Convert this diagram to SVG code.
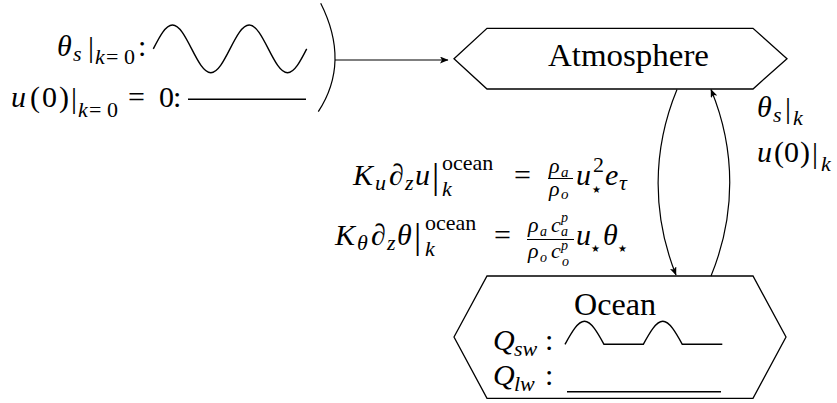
<svg xmlns="http://www.w3.org/2000/svg" width="837" height="403" viewBox="0 0 837 403">
<style>
text{font-family:"Liberation Serif","DejaVu Serif",serif;font-size:30px;fill:#000}
.i{font-style:italic}
.s{font-size:22px}
.ss{font-size:15px}
.sp{font-size:14px}
.st{font-family:"DejaVu Sans",sans-serif;font-size:10px;font-style:normal}
.bar{font-size:36px}
.node{fill:#fff;stroke:#000;stroke-width:1.3}
.ln{fill:none;stroke:#000;stroke-width:1.2}
.wave{fill:none;stroke:#000;stroke-width:1.4}
.fr{stroke:#000;stroke-width:1}
</style>
<defs>
<marker id="ah" markerWidth="9" markerHeight="7" refX="8" refY="3.5" orient="auto" markerUnits="userSpaceOnUse">
<path d="M0,0 L8.5,3.5 L0,7 L2,3.5 z" fill="#000"/>
</marker>
</defs>
<rect width="837" height="403" fill="#fff"/>

<g id="initial-conditions">
<text><tspan class="i" x="57" y="56">θ</tspan><tspan class="i s" x="73" y="61">s</tspan><tspan x="88" y="57">|</tspan><tspan class="i s" x="95" y="64">k</tspan><tspan class="s" x="106" y="64">=</tspan><tspan class="s" x="124" y="64">0</tspan><tspan x="138" y="56">:</tspan></text>
<path class="wave" d="M153.3,48.85 c6.25,-12.2 12.28,-23.85 19.175,-23.85 s12.925,11.65 19.175,23.85 s12.28,23.85 19.175,23.85 s12.925,-11.65 19.175,-23.85 s12.28,-23.85 19.175,-23.85 s12.925,11.65 19.175,23.85 s12.28,23.85 19.175,23.85 s12.925,-11.65 19.175,-23.85"/>
<text><tspan class="i" x="11" y="107">u</tspan><tspan x="30" y="107">(</tspan><tspan x="42" y="107">0</tspan><tspan x="59" y="107">)</tspan><tspan x="71" y="108">|</tspan><tspan class="i s" x="78" y="117">k</tspan><tspan class="s" x="89" y="117">=</tspan><tspan class="s" x="107" y="117">0</tspan><tspan x="128" y="107">=</tspan><tspan x="159" y="107">0</tspan><tspan x="173" y="107">:</tspan></text>
<path class="wave" d="M188,99.3 L306,99.3"/>
<path class="ln" d="M320.7,3.3 Q350.5,62.5 318.3,111.7"/>
</g>

<g id="atmosphere">
<polygon class="node" points="454,58.7 487,28.3 753,28.3 787,58.7 753,89 487,89"/>
<text x="548" y="66" style="font-size:31px" textLength="161" lengthAdjust="spacingAndGlyphs">Atmosphere</text>
</g>

<g id="ocean">
<polygon class="node" points="454,337 487,276 753,276 786,337 753,398.3 487,398.3"/>
<text x="574" y="315" style="font-size:31px" textLength="82" lengthAdjust="spacingAndGlyphs">Ocean</text>
<text><tspan class="i" x="493" y="350">Q</tspan><tspan class="i s" x="514" y="356">sw</tspan><tspan x="545" y="350">:</tspan></text>
<path class="wave" d="M565,344.3 c6.5,-11.8 12.8,-23 19.5,-23 s13,11.2 19.5,23 L643.3,344.3 c6.5,-11.8 12.8,-23 19.5,-23 s13,11.2 19.5,23 L722.3,344.3"/>
<text><tspan class="i" x="493" y="385">Q</tspan><tspan class="i s" x="514" y="391">lw</tspan><tspan x="545" y="385">:</tspan></text>
<path class="wave" d="M567,391.7 L721,391.7"/>
</g>

<g id="flux-labels">
<text><tspan class="i" x="353" y="185">K</tspan><tspan class="i s" x="375" y="190">u</tspan><tspan class="i" x="389" y="185">∂</tspan><tspan class="i s" x="405" y="190">z</tspan><tspan class="i" x="415" y="185">u</tspan><tspan class="bar" x="432" y="188">|</tspan><tspan class="s" x="442" y="170">ocean</tspan><tspan class="i s" x="442" y="196">k</tspan><tspan x="514" y="185">=</tspan><tspan class="i s" x="549" y="173">ρ</tspan><tspan class="i ss" x="561" y="177">a</tspan><tspan class="i s" x="549" y="196">ρ</tspan><tspan class="i ss" x="561" y="199">o</tspan><tspan class="i" x="576" y="185">u</tspan><tspan class="s" x="593" y="172">2</tspan><tspan class="st" x="592" y="193">★</tspan><tspan class="i" x="605" y="185">e</tspan><tspan class="i s" x="619" y="190">τ</tspan></text>
<line class="fr" x1="548" y1="178.5" x2="573" y2="178.5"/>
<text><tspan class="i" x="335" y="245">K</tspan><tspan class="i s" x="357" y="250">θ</tspan><tspan class="i" x="371" y="245">∂</tspan><tspan class="i s" x="387" y="250">z</tspan><tspan class="i" x="397" y="245">θ</tspan><tspan class="bar" x="414" y="248">|</tspan><tspan class="s" x="425" y="230">ocean</tspan><tspan class="i s" x="425" y="256">k</tspan><tspan x="494" y="245">=</tspan><tspan class="i s" x="528" y="232">ρ</tspan><tspan class="i sp" x="540" y="236">a</tspan><tspan class="i s" x="551" y="232">c</tspan><tspan class="i sp" x="561" y="222">p</tspan><tspan class="i sp" x="561" y="236">a</tspan><tspan class="i s" x="528" y="258">ρ</tspan><tspan class="i sp" x="540" y="262">o</tspan><tspan class="i s" x="551" y="258">c</tspan><tspan class="i sp" x="561" y="250">p</tspan><tspan class="i sp" x="562" y="266">o</tspan><tspan class="i" x="576" y="245">u</tspan><tspan class="st" x="591" y="252">★</tspan><tspan class="i" x="603" y="245">θ</tspan><tspan class="st" x="618" y="252">★</tspan></text>
<line class="fr" x1="527" y1="239.5" x2="574" y2="239.5"/>
</g>

<g id="state-labels">
<text><tspan class="i" x="757" y="117">θ</tspan><tspan class="i s" x="773" y="122">s</tspan><tspan x="785" y="118">|</tspan><tspan class="i s" x="793" y="125">k</tspan></text>
<text><tspan class="i" x="757" y="162">u</tspan><tspan x="774" y="162">(</tspan><tspan x="784" y="162">0</tspan><tspan x="800" y="162">)</tspan><tspan x="812" y="163">|</tspan><tspan class="i s" x="821" y="171">k</tspan></text>
</g>

<g id="connectors">
<path class="ln" d="M335,60 L448,60" marker-end="url(#ah)"/>
<path class="ln" d="M677,89.5 C652,150 652,215 676,275" marker-end="url(#ah)"/>
<path class="ln" d="M711,276 C736,215 736,150 711,89.5" marker-end="url(#ah)"/>
</g>
</svg>
